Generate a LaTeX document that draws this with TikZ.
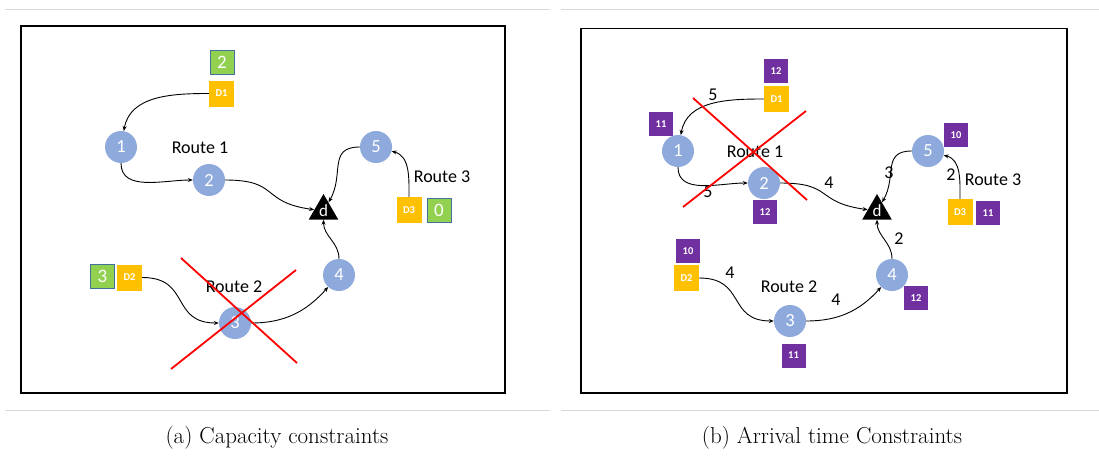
\documentclass[tikz,border=0pt]{standalone}
\usepackage{fontspec}
\newfontfamily\diag{Carlito}
\usetikzlibrary{arrows.meta,shapes.geometric}
\definecolor{nodeblue}{HTML}{8EA9DB}
\definecolor{boxgreen}{HTML}{92D050}
\definecolor{boxedge}{HTML}{41719C}
\definecolor{boxyellow}{HTML}{FFC000}
\definecolor{boxpurple}{HTML}{7030A0}
\definecolor{rulegray}{HTML}{D9D9D9}
\definecolor{crossred}{HTML}{FF0000}
\tikzset{
  stop/.style={circle,fill=nodeblue,minimum size=32pt,inner sep=0pt,text=white,
    font=\diag\fontsize{18.5}{18.5}\selectfont},
  dest/.style={regular polygon,regular polygon sides=3,fill=black,minimum size=34pt,
    inner sep=0pt,text=white,font=\diag\fontsize{17}{17}\selectfont},
  ybox/.style={rectangle,fill=boxyellow,minimum width=25pt,minimum height=26pt,inner sep=0pt,
    text=white,font=\diag\bfseries\fontsize{10.5}{10.5}\selectfont},
  gbox/.style={rectangle,fill=boxgreen,draw=boxedge,line width=0.8pt,minimum size=24pt,inner sep=0pt,
    text=white,font=\diag\fontsize{19}{19}\selectfont},
  pbox/.style={rectangle,fill=boxpurple,minimum size=24pt,inner sep=0pt,
    text=white,font=\diag\bfseries\fontsize{10.5}{10.5}\selectfont},
  routelbl/.style={font=\diag\fontsize{18}{18}\selectfont,inner sep=0pt},
  costlbl/.style={font=\diag\fontsize{18}{18}\selectfont,inner sep=0pt},
  link/.style={draw=black,line width=0.9pt,-{Stealth[length=5pt,width=4pt]}},
  frame/.style={draw=black,line width=1.6pt},
  sep/.style={draw=rulegray,line width=1pt},
  cross/.style={draw=crossred,line width=1.8pt},
  caption/.style={font=\fontsize{23}{23}\selectfont,inner sep=0pt}
}
\begin{document}
\begin{tikzpicture}[x=1pt,y=1pt]
\useasboundingbox[fill=white] (0,0) rectangle (1099,-458);

% separators and frames
\draw[sep] (5,-9.5) -- (550,-9.5);
\draw[sep] (5,-410.5) -- (550,-410.5);
\draw[sep] (561,-9.5) -- (1099,-9.5);
\draw[sep] (561,-410.5) -- (1099,-410.5);
\draw[frame] (21,-26) rectangle (505,-393);
\draw[frame] (581,-28.5) rectangle (1067,-393);

% ---------- (a) capacity constraints ----------
\node[stop] (a1) at (121,-147) {1};
\node[stop] (a2) at (209,-180) {2};
\node[stop] (a3) at (235,-323) {3};
\node[stop] (a4) at (339,-275) {4};
\node[stop] (a5) at (376,-147) {5};
\node[dest] (ad) at (323.5,-211) {d};

\node[gbox] (aq1) at (222,-62) {2};
\node[ybox] (aD1) at (221.5,-93.5) {D1};
\node[gbox] (aq2) at (102.5,-276.5) {3};
\node[ybox] (aD2) at (129.5,-277.5) {D2};
\node[ybox] (aD3) at (409,-210) {D3};
\node[gbox] (aq3) at (439,-210.5) {0};

\node[routelbl] (ar1) at (200,-148) {Route 1};
\node[routelbl] (ar2) at (234,-287) {Route 2};
\node[routelbl] (ar3) at (442,-177) {Route 3};

\draw[link] (aD1.west) to[out=180,in=80] (a1);
\draw[link] (a1.south) to[out=-90,in=180] (a2);
\draw[link] (a2.east) to[out=0,in=172,looseness=1.5] (ad);
\draw[link] (a5.west) to[out=180,in=60,looseness=1.3] (ad);
\draw[link] (aD3.north) to[out=90,in=-15] (a5);
\draw[link] (a4.north) to[out=90,in=-90] (ad);
\draw[link] (aD2.east) to[out=0,in=180,looseness=1.4] (a3);
\draw[link] (a3.east) to[out=0,in=-132] (a4);

\draw[cross] (181,-258) -- (297,-363);
\draw[cross] (171,-369) -- (296,-270);

% ---------- (b) arrival time constraints ----------
\node[stop] (b1) at (678,-151) {1};
\node[stop] (b2) at (764,-183) {2};
\node[stop] (b3) at (790,-321) {3};
\node[stop] (b4) at (892,-275) {4};
\node[stop] (b5) at (928,-151) {5};
\node[dest] (bd) at (877,-211) {d};

\node[pbox] (bt1) at (776,-71) {12};
\node[ybox] (bD1) at (776.5,-99) {D1};
\node[pbox] (bt2) at (661,-124) {11};
\node[pbox] (bt3) at (765,-212) {12};
\node[pbox] (bt4) at (956,-135) {10};
\node[ybox] (bD3) at (960,-212) {D3};
\node[pbox] (bt5) at (988,-213) {11};
\node[pbox] (bt6) at (916,-298) {12};
\node[pbox] (bt7) at (688,-251) {10};
\node[ybox] (bD2) at (686.5,-278) {D2};
\node[pbox] (bt8) at (793.5,-355.5) {11};

\node[routelbl] (br1) at (755,-152) {Route 1};
\node[routelbl] (br2) at (789,-287) {Route 2};
\node[routelbl] (br3) at (993,-180) {Route 3};

\draw[link] (bD1.west) to[out=180,in=80] (b1);
\draw[link] (b1.south) to[out=-90,in=180] (b2);
\draw[link] (b2.east) to[out=0,in=172,looseness=1.5] (bd);
\draw[link] (b5.west) to[out=180,in=60,looseness=1.3] (bd);
\draw[link] (bD3.north) to[out=90,in=-15] (b5);
\draw[link] (b4.north) to[out=90,in=-90] (bd);
\draw[link] (bD2.east) to[out=0,in=180,looseness=1.4] (b3);
\draw[link] (b3.east) to[out=0,in=-132] (b4);

\node[costlbl] (bc1) at (713,-95) {5};
\node[costlbl] (bc2) at (708,-192) {5};
\node[costlbl] (bc3) at (829,-183) {4};
\node[costlbl] (bc4) at (889,-173) {3};
\node[costlbl] (bc5) at (951,-175) {2};
\node[costlbl] (bc6) at (899,-239) {2};
\node[costlbl] (bc7) at (730,-273) {4};
\node[costlbl] (bc8) at (836,-300) {4};

\draw[cross] (693,-98) -- (807,-200);
\draw[cross] (683,-207) -- (806,-111);

% captions
\node[caption] (capa) at (277,-438) {(a) Capacity constraints};
\node[caption] (capb) at (832,-438) {(b) Arrival time Constraints};
\end{tikzpicture}
\end{document}
